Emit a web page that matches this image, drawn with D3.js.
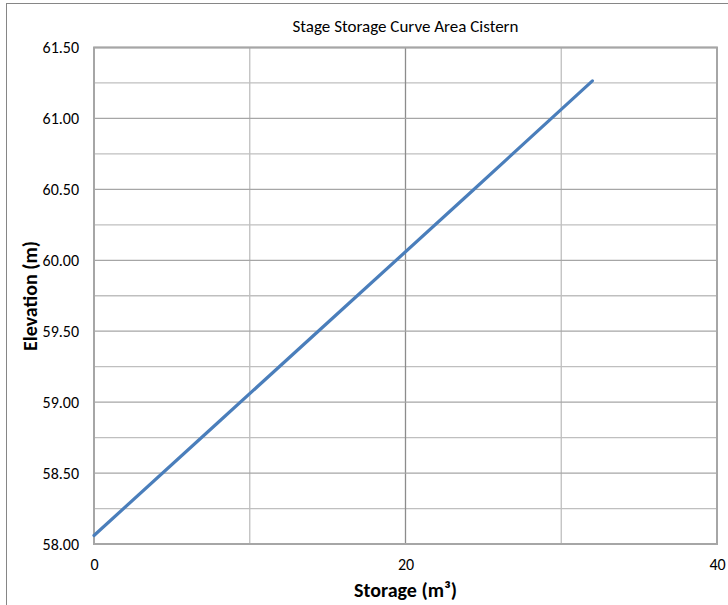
<!DOCTYPE html>
<html><head><meta charset="utf-8">
<script src="https://cdn.jsdelivr.net/npm/d3@7"></script>
<style>body{margin:0;background:#fff}svg{display:block}</style>
</head><body>
<script>
const storage = [0, 8, 16, 24, 32.0];
const elevation = [58.06, 58.86, 59.66, 60.46, 61.265];
const xTicks = [0, 20, 40];
const xMinor = [10, 30];
const yTicks = [58.0, 58.5, 59.0, 59.5, 60.0, 60.5, 61.0, 61.5];
const yMinor = [58.25, 58.75, 59.25, 59.75, 60.25, 60.75, 61.25];
const title = "Stage Storage Curve Area Cistern";
const xTitle = "Storage (m³)";
const yTitle = "Elevation (m)";

const W = 728, H = 605;
const m = {left: 94, right: 11, top: 47.5, bottom: 61};
const svg = d3.select("body").append("svg").attr("width", W).attr("height", H);
svg.append("rect").attr("x", 6.5).attr("y", 3.5).attr("width", 740).attr("height", 620)
  .attr("fill", "#fff").attr("stroke", "#868686").attr("stroke-width", 1);

const x = d3.scaleLinear().domain([0, 40]).range([m.left, W - m.right]);
const y = d3.scaleLinear().domain([58, 61.5]).range([H - m.bottom, m.top]);
const g = svg.append("g");

g.selectAll(".vmin").data(xMinor).join("line")
  .attr("x1", d => x(d)).attr("x2", d => x(d)).attr("y1", y(58)).attr("y2", y(61.5))
  .attr("stroke", "#bfbfbf").attr("stroke-width", 1.3);
g.selectAll(".hmin").data(yMinor).join("line")
  .attr("y1", d => y(d)).attr("y2", d => y(d)).attr("x1", x(0)).attr("x2", x(40))
  .attr("stroke", "#bfbfbf").attr("stroke-width", 1.3);
g.selectAll(".vmaj").data(xTicks).join("line")
  .attr("x1", d => x(d)).attr("x2", d => x(d)).attr("y1", y(58)).attr("y2", y(61.5))
  .attr("stroke", "#8c8c8c").attr("stroke-width", 1.3);
g.selectAll(".hmaj").data(yTicks).join("line")
  .attr("y1", d => y(d)).attr("y2", d => y(d)).attr("x1", x(0)).attr("x2", x(40))
  .attr("stroke", "#a6a6a6").attr("stroke-width", 1.3);
g.append("rect").attr("x", x(0)).attr("y", y(61.5)).attr("width", x(40) - x(0)).attr("height", y(58) - y(61.5))
  .attr("fill", "none").attr("stroke", "#a6a6a6").attr("stroke-width", 2);

const fontF = "Carlito, 'Open Sans', 'Noto Sans', sans-serif";
const yAxis = d3.axisLeft(y).tickValues(yTicks).tickFormat(d3.format(".2f")).tickSize(0).tickPadding(15);
const ya = svg.append("g").attr("transform", `translate(${m.left},0)`).call(yAxis);
ya.select(".domain").remove();
ya.selectAll("text").attr("font-family", fontF).attr("font-size", 16).attr("fill", "#000");
const xAxis = d3.axisBottom(x).tickValues(xTicks).tickFormat(d3.format("d")).tickSize(0).tickPadding(15);
const xa = svg.append("g").attr("transform", `translate(0,${H - m.bottom})`).call(xAxis);
xa.select(".domain").remove();
xa.selectAll("text").attr("font-family", fontF).attr("font-size", 16).attr("fill", "#000");

const pts = storage.map((s, i) => [s, elevation[i]]);
svg.append("path").datum(pts)
  .attr("d", d3.line().x(d => x(d[0])).y(d => y(d[1])))
  .attr("fill", "none").attr("stroke", "#4a7ebb").attr("stroke-width", 3.2).attr("stroke-linecap", "round");

svg.append("text").attr("x", 405.5).attr("y", 32).attr("text-anchor", "middle")
  .attr("font-family", fontF).attr("font-size", 17).attr("fill", "#000").text(title);
svg.append("text").attr("x", 405.5).attr("y", 597).attr("text-anchor", "middle")
  .attr("font-family", fontF).attr("font-size", 20).attr("font-weight", "bold").attr("fill", "#000").text(xTitle);
svg.append("text").attr("transform", "translate(37,296) rotate(-90)").attr("text-anchor", "middle")
  .attr("font-family", fontF).attr("font-size", 20).attr("font-weight", "bold").attr("fill", "#000").text(yTitle);
</script>
</body></html>
